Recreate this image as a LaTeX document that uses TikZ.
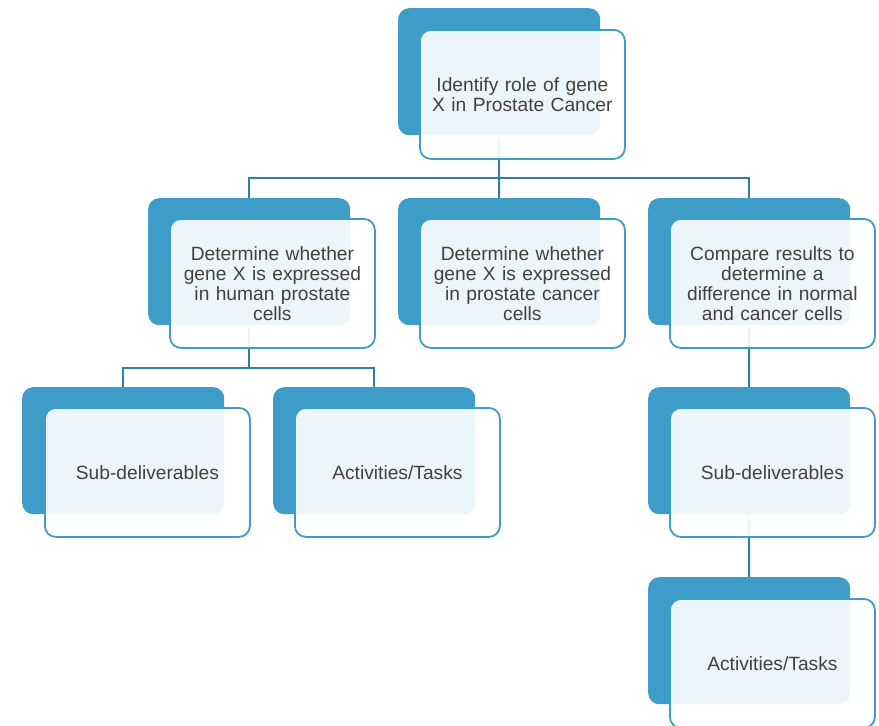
\documentclass[tikz,border=0pt]{standalone}
\usepackage{fontspec}
\setmainfont{Liberation Sans}
\definecolor{backblue}{HTML}{3E9CC8}
\definecolor{connblue}{HTML}{2F7EA6}
\definecolor{txt}{HTML}{45403B}
\begin{document}
\begin{tikzpicture}[x=1pt,y=-1pt,
  backbox/.style={fill=backblue, rounded corners=11pt, minimum width=202pt, minimum height=127pt, anchor=north west, inner sep=0pt},
  frontbox/.style={draw=backblue, line width=1.8pt, fill=white, fill opacity=0.9, text opacity=1, rounded corners=11pt, minimum width=205pt, minimum height=129pt, anchor=north west, inner sep=0pt, text width=198pt, align=center, text=txt, font=\fontsize{19.2}{20}\selectfont},
  conn/.style={draw=connblue, line width=2pt}]
\useasboundingbox (0,0) rectangle (879,726);
% back boxes
\node[backbox] (topB) at (398,8) {};
\node[backbox] (aB) at (148,198) {};
\node[backbox] (bB) at (398,198) {};
\node[backbox] (cB) at (648,198) {};
\node[backbox] (a1B) at (22,387) {};
\node[backbox] (a2B) at (273,387) {};
\node[backbox] (c1B) at (648,387) {};
\node[backbox] (c2B) at (648,577) {};
% connectors
\coordinate (j1) at (499,178);
\coordinate (j2) at (249,368);
\draw[conn] (499,138) -- (j1);
\draw[conn] (j1) -| (aB.north);
\draw[conn] (j1) -| (cB.north);
\draw[conn] (j1) -- (bB.north);
\draw[conn] (249,328) -- (j2);
\draw[conn] (j2) -| (a1B.north);
\draw[conn] (j2) -| (a2B.north);
\draw[conn] (749,328) -- (c1B.north);
\draw[conn] (749,518) -- (c2B.north);
% front boxes
\node[frontbox] (top) at (419,29) {Identify role of gene\\X in Prostate Cancer};
\node[frontbox] (a) at (169,218) {Determine whether\\gene X is expressed\\in human prostate\\cells};
\node[frontbox] (b) at (419,218) {Determine whether\\gene X is expressed\\in prostate cancer\\cells};
\node[frontbox] (c) at (669,218) {Compare results to\\determine a\\difference in normal\\and cancer cells};
\node[frontbox] (a1) at (44,407) {Sub-deliverables};
\node[frontbox] (a2) at (294,407) {Activities/Tasks};
\node[frontbox] (c1) at (669,407) {Sub-deliverables};
\node[frontbox] (c2) at (669,598) {Activities/Tasks};
\end{tikzpicture}
\end{document}
